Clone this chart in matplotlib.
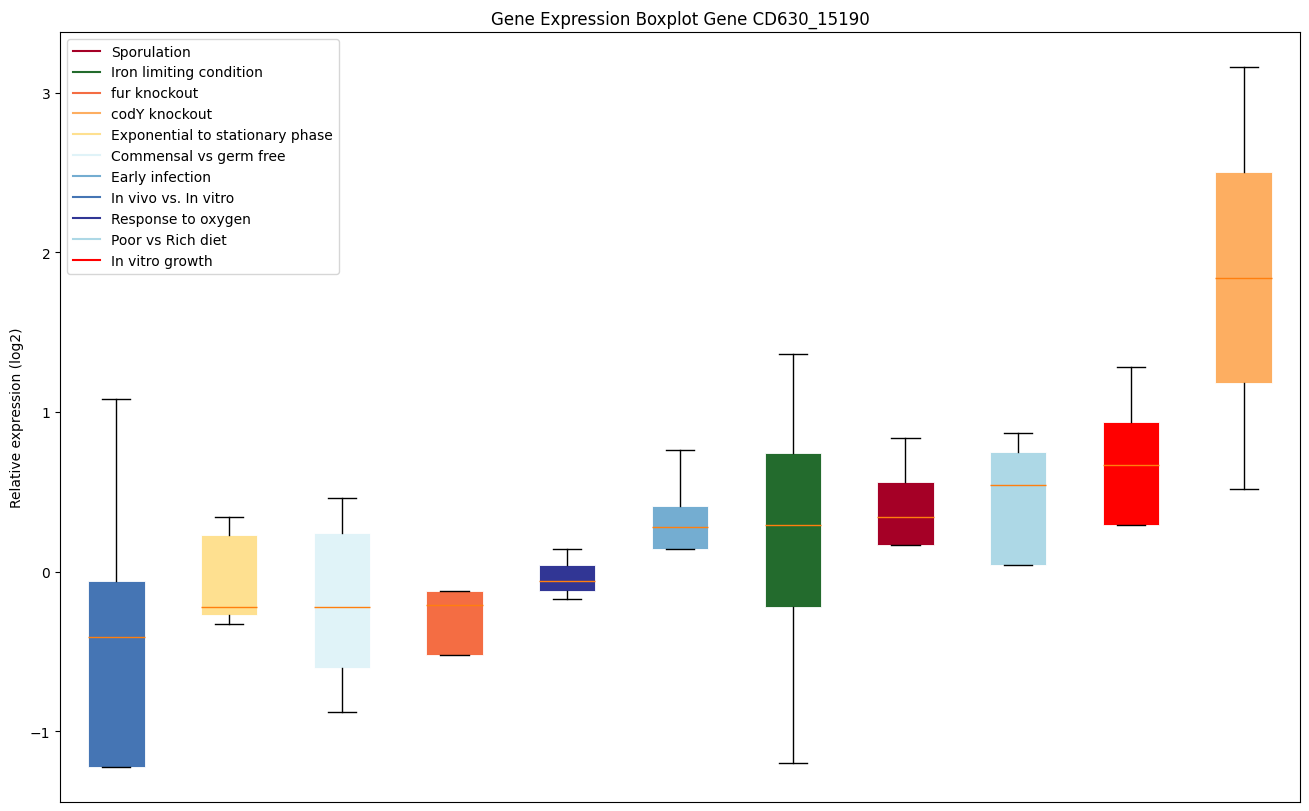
import matplotlib
matplotlib.use('Agg')
import matplotlib.pyplot as plt
from matplotlib.lines import Line2D

# box order, left to right
conditions = ['In vivo vs. In vitro', 'Exponential to stationary phase', 'Commensal vs germ free',
              'fur knockout', 'Response to oxygen', 'Early infection', 'Iron limiting condition',
              'Sporulation', 'Poor vs Rich diet', 'In vitro growth', 'codY knockout']
whisker_low = [-1.22, -0.33, -0.88, -0.52, -0.17, 0.14, -1.20, 0.17, 0.04, 0.29, 0.52]
q1 = [-1.22, -0.27, -0.60, -0.52, -0.12, 0.14, -0.22, 0.17, 0.04, 0.29, 1.18]
medians = [-0.41, -0.22, -0.22, -0.21, -0.06, 0.28, 0.29, 0.34, 0.54, 0.67, 1.84]
q3 = [-0.06, 0.23, 0.24, -0.12, 0.04, 0.41, 0.74, 0.56, 0.75, 0.94, 2.50]
whisker_high = [1.08, 0.34, 0.46, -0.12, 0.14, 0.76, 1.36, 0.84, 0.87, 1.28, 3.16]

colors = {
  'Sporulation': '#a50026',
  'Iron limiting condition': '#236b2d',
  'fur knockout': '#f46d43',
  'codY knockout': '#fdae61',
  'Exponential to stationary phase': '#fee090',
  'Commensal vs germ free': '#e0f3f8',
  'Early infection': '#74add1',
  'In vivo vs. In vitro': '#4575b4',
  'Response to oxygen': '#313695',
  'Poor vs Rich diet': '#add8e6',
  'In vitro growth': '#ff0000',
}
legend_order = ['Sporulation', 'Iron limiting condition', 'fur knockout', 'codY knockout',
                'Exponential to stationary phase', 'Commensal vs germ free', 'Early infection',
                'In vivo vs. In vitro', 'Response to oxygen', 'Poor vs Rich diet', 'In vitro growth']


def main():
  fig, ax = plt.subplots(figsize=(13.09, 8.12), dpi=100)
  fig.subplots_adjust(left=60/1309, right=1300/1309, top=1-33/812, bottom=1-802.5/812)

  stats = []
  for i, name in enumerate(conditions):
    stats.append({'label': name, 'whislo': whisker_low[i], 'q1': q1[i], 'med': medians[i],
                  'q3': q3[i], 'whishi': whisker_high[i], 'fliers': []})
  bp = ax.bxp(stats, patch_artist=True, showfliers=False)
  for box, name in zip(bp['boxes'], conditions):
    box.set_facecolor(colors[name])
    box.set_edgecolor('white')
    box.set_linewidth(0.6)

  handles = [Line2D([], [], color=colors[n]) for n in legend_order]
  ax.legend(handles, legend_order, loc='upper left')

  ax.set_xticks([])
  ax.set_ylabel('Relative expression (log2)')
  ax.set_title('Gene Expression Boxplot Gene CD630_15190')
  fig.savefig('out.png')


if __name__ == '__main__':
  main()
